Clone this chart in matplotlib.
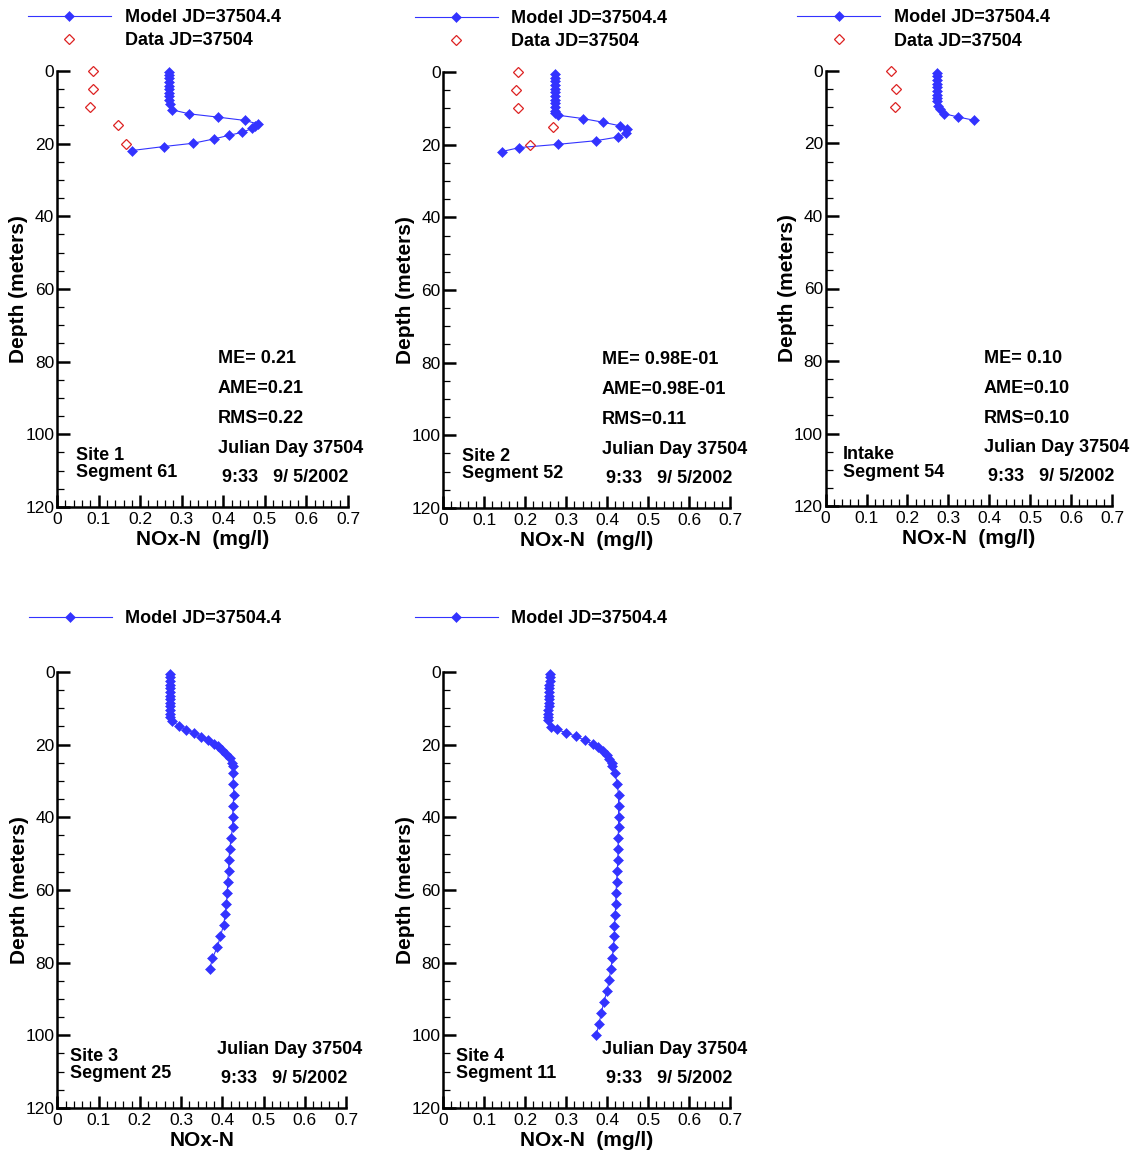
import numpy as np
import matplotlib
matplotlib.use("Agg")
import matplotlib.pyplot as plt
from matplotlib.ticker import MultipleLocator

plt.rcParams["font.family"] = ["Liberation Sans", "DejaVu Sans"]

# --- model profiles (depth m, NOx-N mg/l) ---
d1 = [0.4, 1.0, 2.0, 3.0, 4.0, 5.0, 6.0, 7.0, 8.0, 9.2, 10.7, 11.8, 12.7, 13.6, 14.6,
      15.2, 15.8, 16.9, 17.7, 18.7, 19.9, 20.8, 21.9]
m1 = [0.269, 0.269, 0.269, 0.269, 0.269, 0.269, 0.269, 0.269, 0.269, 0.271, 0.277, 0.318,
      0.387, 0.451, 0.484, 0.476, 0.470, 0.445, 0.414, 0.378, 0.327, 0.257, 0.180]
d2 = [0.6, 1.6, 2.6, 3.6, 4.6, 5.6, 6.6, 7.6, 8.6, 9.6, 10.6, 11.2, 11.9, 12.8, 13.8, 14.8,
      15.7, 16.9, 17.9, 18.9, 19.9, 20.8, 21.9]
m2 = [0.273, 0.273, 0.273, 0.273, 0.273, 0.273, 0.273, 0.273, 0.273, 0.273, 0.273, 0.274,
      0.281, 0.340, 0.389, 0.431, 0.448, 0.446, 0.426, 0.373, 0.281, 0.186, 0.143]
d3 = [0.5, 1.5, 2.5, 3.5, 4.5, 5.5, 6.5, 7.5, 8.2, 9.7, 10.6, 11.8, 12.7, 13.6]
m3 = [0.273, 0.273, 0.273, 0.273, 0.273, 0.273, 0.273, 0.273, 0.273, 0.275, 0.280, 0.290,
      0.324, 0.363]
d4 = [0.5, 1.5, 2.5, 3.5, 4.5, 5.5, 6.5, 7.5, 8.5, 9.5, 10.5, 11.5, 12.3, 13.5, 14.9, 15.9,
      16.8, 17.8, 18.7, 19.8, 20.5, 21.5, 22.6, 23.8, 25.0, 25.9, 27.9, 30.9, 33.9, 36.8,
      39.8, 42.8, 45.8, 48.8, 51.8, 54.8, 57.7, 60.8, 63.8, 66.7, 69.7, 72.8, 75.7, 78.7, 81.7]
m4 = [0.273, 0.273, 0.273, 0.273, 0.273, 0.273, 0.273, 0.273, 0.273, 0.273, 0.273, 0.273,
      0.274, 0.279, 0.295, 0.313, 0.332, 0.349, 0.366, 0.379, 0.390, 0.400, 0.410, 0.418,
      0.424, 0.426, 0.426, 0.427, 0.428, 0.426, 0.425, 0.425, 0.421, 0.418, 0.416, 0.415,
      0.413, 0.412, 0.410, 0.407, 0.403, 0.395, 0.388, 0.376, 0.370]
d5 = [0.5, 1.5, 2.5, 3.5, 4.5, 5.5, 6.5, 7.5, 8.5, 9.5, 10.5, 11.5, 12.5, 13.1, 15.2, 15.8,
      16.7, 17.7, 18.8, 19.9, 20.6, 21.7, 22.8, 23.9, 25.0, 25.8, 27.8, 30.8, 33.9, 36.8,
      39.8, 42.8, 45.8, 48.8, 51.8, 54.8, 57.8, 60.8, 63.9, 66.8, 69.8, 72.8, 75.8, 78.8,
      81.8, 84.9, 87.8, 90.8, 93.9, 96.9, 99.9]
m5 = [0.260, 0.260, 0.260, 0.259, 0.259, 0.259, 0.258, 0.258, 0.257, 0.257, 0.256, 0.256,
      0.255, 0.255, 0.262, 0.277, 0.299, 0.324, 0.346, 0.365, 0.378, 0.389, 0.399, 0.405,
      0.411, 0.413, 0.419, 0.425, 0.428, 0.428, 0.428, 0.428, 0.427, 0.427, 0.426, 0.425,
      0.423, 0.422, 0.421, 0.420, 0.418, 0.418, 0.415, 0.413, 0.409, 0.405, 0.400, 0.392,
      0.386, 0.380, 0.374]

# --- observed data ---
obs_d1 = [0, 5, 10, 15, 20]
obs_v1 = [0.086, 0.086, 0.079, 0.147, 0.167]
obs_d2 = [0, 5, 10, 15, 20]
obs_v2 = [0.182, 0.178, 0.182, 0.268, 0.212]
obs_d3 = [0, 5, 10]
obs_v3 = [0.159, 0.173, 0.170]

sites = [("Site 1", "Segment 61"), ("Site 2", "Segment 52"), ("Intake", "Segment 54"),
         ("Site 3", "Segment 25"), ("Site 4", "Segment 11")]
stats = [["ME= 0.21", "AME=0.21", "RMS=0.22"],
         ["ME= 0.98E-01", "AME=0.98E-01", "RMS=0.11"],
         ["ME= 0.10", "AME=0.10", "RMS=0.10"],
         None, None]
xlabels = ["NOx-N  (mg/l)", "NOx-N  (mg/l)", "NOx-N  (mg/l)", "NOx-N", "NOx-N  (mg/l)"]

panels = [(d1, m1, obs_d1, obs_v1), (d2, m2, obs_d2, obs_v2), (d3, m3, obs_d3, obs_v3),
          (d4, m4, None, None), (d5, m5, None, None)]
# axes boxes in figure fraction [left, bottom, width, height]
boxes = [[0.0503, 0.5607, 0.2566, 0.3778], [0.3909, 0.5598, 0.2528, 0.3778],
         [0.7281, 0.5615, 0.2525, 0.3770], [0.0507, 0.0399, 0.2544, 0.3778],
         [0.3909, 0.0399, 0.2528, 0.3778]]
site_x = [0.065, 0.065, 0.06, 0.042, 0.045]

BLUE = "#3333ff"
RED = "#dd2222"
FS = 13

fig = plt.figure(figsize=(11.34, 11.54), dpi=100)

for i, ((dm, vm, do, vo), box) in enumerate(zip(panels, boxes)):
    ax = fig.add_axes(box)
    ax.plot(vm, dm, color=BLUE, lw=0.8, marker="D", ms=4.8, mec=BLUE, mew=0.4,
            label="Model JD=37504.4", clip_on=False)
    if do is not None:
        ax.plot(vo, do, ls="none", marker="D", ms=5.0, mfc="none", mec=RED, mew=0.9,
                label="Data JD=37504", clip_on=False)
    ax.set_xlim(0, 0.7)
    ax.set_ylim(120, 0)
    for s in ("top", "right"):
        ax.spines[s].set_visible(False)
    for s in ("left", "bottom"):
        ax.spines[s].set_linewidth(1.8)
    ax.xaxis.set_major_locator(MultipleLocator(0.1))
    ax.xaxis.set_minor_locator(MultipleLocator(0.02))
    ax.yaxis.set_major_locator(MultipleLocator(20))
    ax.yaxis.set_minor_locator(MultipleLocator(5))
    ax.xaxis.set_major_formatter(plt.FuncFormatter(lambda v, p: f"{v:g}"))
    ax.tick_params(which="major", direction="in", length=9, width=1.8, labelsize=12.5)
    ax.tick_params(axis="x", which="major", pad=3.5)
    ax.tick_params(axis="y", which="major", pad=2)
    ax.tick_params(which="minor", direction="in", length=5, width=0.9)
    ax.set_xlabel(xlabels[i], fontsize=15, fontweight="bold")
    ax.set_ylabel("Depth (meters)", fontsize=15, fontweight="bold")
    ax.xaxis.set_label_coords(0.5, -0.052)
    ax.yaxis.set_label_coords(-0.10, 0.5)

    ax.legend(loc="upper left", bbox_to_anchor=(-0.10, 1.142), frameon=False,
              borderpad=0, borderaxespad=0, handlelength=4.6, handletextpad=0.75,
              labelspacing=0.35, prop=dict(size=FS, weight="bold"))

    t = ax.transAxes
    kw = dict(fontsize=FS, fontweight="bold", transform=t, va="center")
    ax.text(site_x[i], 1 - 0.881, sites[i][0], **kw)
    ax.text(site_x[i], 1 - 0.922, sites[i][1], **kw)
    if stats[i]:
        for k, s in enumerate(stats[i]):
            ax.text(0.553, 1 - (0.660 + 0.069 * k), s, **kw)
    ax.text(0.553, 1 - 0.866, "Julian Day 37504", **kw)
    ax.text(0.568, 1 - 0.933, "9:33   9/ 5/2002", **kw)

fig.savefig("out.png", dpi=100)
